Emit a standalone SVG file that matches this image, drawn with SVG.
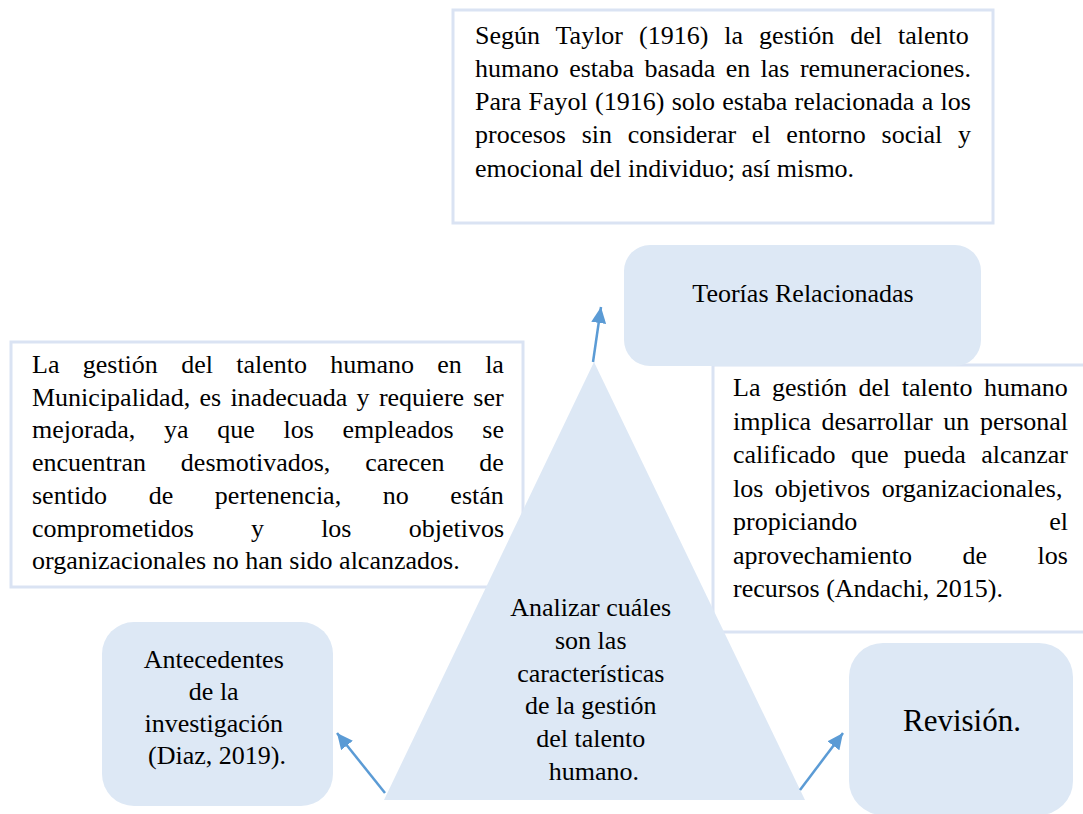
<svg xmlns="http://www.w3.org/2000/svg" width="1083" height="814" viewBox="0 0 1083 814">
<defs>
<style>
.t{font-family:"Liberation Serif","Times New Roman",serif;font-size:26px;fill:#000;}
.c{text-anchor:middle;}
.box{fill:#fff;stroke:#dae3f3;stroke-width:3;}
.node{fill:#dde8f5;stroke:none;}
.conn{stroke:#5b9bd5;stroke-width:2.5;fill:none;}
</style>
<marker id="ah" markerUnits="userSpaceOnUse" markerWidth="16" markerHeight="15" refX="16" refY="7.5" orient="auto">
<path d="M0,0 L16,7.5 L0,15 z" fill="#5b9bd5"/>
</marker>
</defs>
<rect width="1083" height="814" fill="#fff"/>

<g id="taylor">
<rect class="box" x="453" y="10" width="540" height="213"/>
<text class="t">
<tspan x="475" y="44" word-spacing="9.5">Según Taylor (1916) la gestión del talento</tspan>
<tspan x="475" y="77" word-spacing="3.9">humano estaba basada en las remuneraciones.</tspan>
<tspan x="475" y="110" word-spacing="0.8">Para Fayol (1916) solo estaba relacionada a los</tspan>
<tspan x="475" y="143" word-spacing="9.25">procesos sin considerar el entorno social y</tspan>
<tspan x="475" y="177">emocional del individuo; así mismo.</tspan>
</text>
</g>

<g id="antecedentes-texto">
<rect class="box" x="11" y="342" width="512" height="245"/>
<text class="t">
<tspan x="32" y="373" word-spacing="16.8">La gestión del talento humano en la</tspan>
<tspan x="32" y="405.7" word-spacing="2.8">Municipalidad, es inadecuada y requiere ser</tspan>
<tspan x="32" y="438.4" word-spacing="22.2">mejorada, ya que los empleados se</tspan>
<tspan x="32" y="471.1" word-spacing="28.3">encuentran desmotivados, carecen de</tspan>
<tspan x="32" y="503.8" word-spacing="35.1">sentido de pertenencia, no están</tspan>
<tspan x="32" y="536.5" word-spacing="50.7">comprometidos y los objetivos</tspan>
<tspan x="32" y="569.2">organizacionales no han sido alcanzados.</tspan>
</text>
</g>

<g id="definicion">
<rect class="box" x="713" y="365" width="380" height="267"/>
<text class="t">
<tspan x="733" y="396" word-spacing="5">La gestión del talento humano</tspan>
<tspan x="733" y="429.5" word-spacing="4.1">implica desarrollar un personal</tspan>
<tspan x="733" y="463" word-spacing="8.9">calificado que pueda alcanzar</tspan>
<tspan x="733" y="496.5" word-spacing="5">los objetivos organizacionales,</tspan>
<tspan x="733" y="530" word-spacing="185.5">propiciando el</tspan>
<tspan x="733" y="563.5" word-spacing="44">aprovechamiento de los</tspan>
<tspan x="733" y="597">recursos (Andachi, 2015).</tspan>
</text>
</g>

<g id="teorias">
<rect class="node" x="624" y="245" width="357" height="121" rx="26"/>
<text class="t c" x="803" y="302">Teorías Relacionadas</text>
</g>

<g id="objetivo">
<polygon class="node" points="594,362 805,800 384,800"/>
<text class="t c">
<tspan x="594" y="616">Analizar cuáles</tspan>
<tspan x="594" y="649">son las</tspan>
<tspan x="594" y="682">características</tspan>
<tspan x="594" y="714">de la gestión</tspan>
<tspan x="594" y="747">del talento</tspan>
<tspan x="594" y="780">humano.</tspan>
</text>
</g>

<g id="antecedentes">
<rect class="node" x="102" y="622" width="231" height="184" rx="32"/>
<text class="t c">
<tspan x="217" y="668">Antecedentes</tspan>
<tspan x="217" y="700">de la</tspan>
<tspan x="217" y="732">investigación</tspan>
<tspan x="217" y="764">(Diaz, 2019).</tspan>
</text>
</g>

<g id="revision">
<rect class="node" x="849" y="643" width="224" height="172" rx="34"/>
<text class="t c" x="962" y="731" style="font-size:31px">Revisión.</text>
</g>

<g id="connectors">
<line class="conn" x1="593" y1="362" x2="601" y2="307" marker-end="url(#ah)"/>
<line class="conn" x1="385" y1="793" x2="337" y2="733" marker-end="url(#ah)"/>
<line class="conn" x1="800" y1="790" x2="843" y2="733" marker-end="url(#ah)"/>
</g>
</svg>
